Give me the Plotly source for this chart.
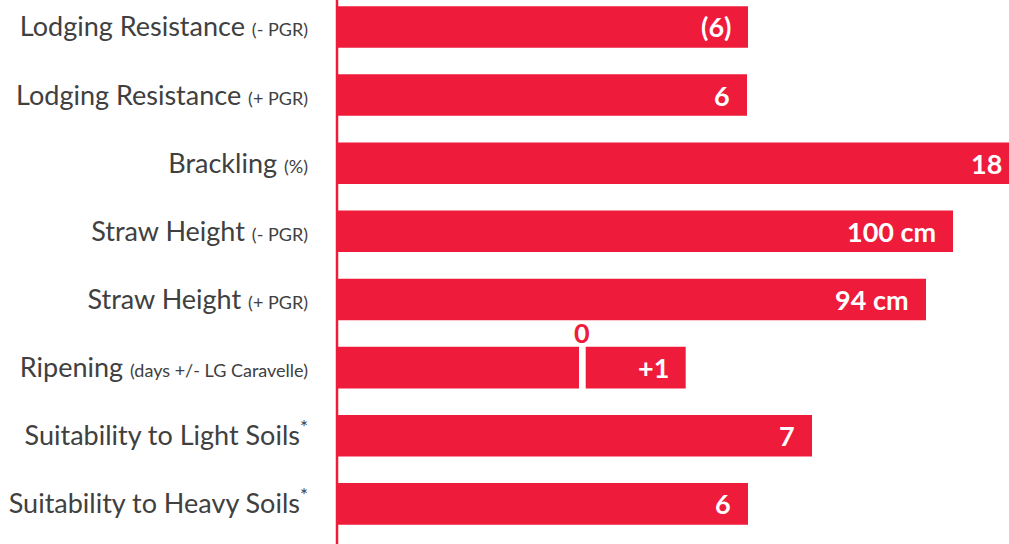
import plotly.graph_objects as go

# Data
categories = [
    "Lodging Resistance", "Lodging Resistance", "Brackling", "Straw Height",
    "Straw Height", "Ripening", "Suitability to Light Soils", "Suitability to Heavy Soils",
]
qualifiers = ["(- PGR)", "(+ PGR)", "(%)", "(- PGR)", "(+ PGR)", "(days +/- LG Caravelle)", "", ""]
superscripts = ["", "", "", "", "", "", "*", "*"]
value_labels = ["(6)", "6", "18", "100 cm", "94 cm", "+1", "7", "6"]
# bar lengths as drawn (display units)
bar_lengths = [411, 410, 682, 616, 589, 242, 475, 411]
# ripening: reference (LG Caravelle = 0) marker and the +1 extension
ripening_ref_label = "0"
ripening_ext_base = 248.7
ripening_ext_len = 100

RED = "#EE1B3B"
GREY = "#404040"
FONT = "Lato"

ypos = list(range(len(categories)))
ticktext = []
for c, q, s in zip(categories, qualifiers, superscripts):
    t = c
    if s:
        t += "<sup>" + s + "</sup>"
    if q:
        t += " <span style='font-size:18px'>" + q + "</span>"
    ticktext.append(t)

fig = go.Figure()
fig.add_trace(go.Bar(
    y=ypos, x=bar_lengths, orientation="h", width=0.61,
    marker=dict(color=RED, line=dict(width=0)), hoverinfo="skip", showlegend=False,
))
rip = categories.index("Ripening")
fig.add_trace(go.Bar(
    y=[rip], x=[ripening_ext_len], base=[ripening_ext_base], orientation="h", width=0.61,
    marker=dict(color=RED, line=dict(width=0)), hoverinfo="skip", showlegend=False,
))

# value labels inside bar ends
for i, (lab, L) in enumerate(zip(value_labels, bar_lengths)):
    xend = L
    if i == rip:
        xend = ripening_ext_base + ripening_ext_len
    fig.add_annotation(
        x=xend, y=i, xref="x", yref="y", text="<b>" + lab + "</b>", showarrow=False,
        xanchor="right", yanchor="middle", xshift=-15,
        font=dict(family=FONT, size=27, color="white"),
    )
# "0" reference label above the ripening split
fig.add_annotation(
    x=(bar_lengths[rip] + ripening_ext_base) / 2, y=rip, xref="x", yref="y",
    text="<b>" + ripening_ref_label + "</b>", showarrow=False,
    xanchor="center", yanchor="middle", yshift=35,
    font=dict(family=FONT, size=27, color=RED),
)

# vertical axis line (paper refs so it is not clipped at the plot edge)
fig.add_shape(type="line", xref="paper", yref="paper", x0=0, x1=0, y0=0, y1=1,
              line=dict(color=RED, width=2.5), layer="above")

fig.update_layout(
    width=1020, height=544,
    margin=dict(l=337, r=0, t=0, b=0),
    paper_bgcolor="white", plot_bgcolor="white",
    barmode="overlay",
    font=dict(family=FONT, color=GREY),
)
fig.update_xaxes(range=[0, 683], visible=False, showgrid=False, zeroline=False)
fig.update_yaxes(
    range=[7.589, -0.395], tickmode="array", tickvals=ypos, ticktext=ticktext,
    showgrid=False, zeroline=False, showline=False, ticks="",
    ticklabelstandoff=28, tickfont=dict(family=FONT, size=27, color=GREY),
)

fig.write_html(
    "out.html",
    config={"displayModeBar": False},
    post_script="document.body.style.margin='0';document.body.style.overflow='hidden';",
)
